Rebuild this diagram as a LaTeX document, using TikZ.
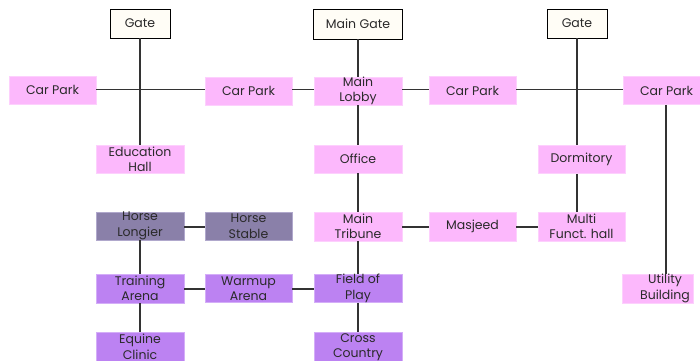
\documentclass[tikz,border=0pt]{standalone}
\usepackage{fontspec}
\setmainfont{Poppins}
\definecolor{pinkf}{HTML}{FCB8FC}
\definecolor{pinkd}{HTML}{FDD0FD}
\definecolor{greyf}{HTML}{8A80A9}
\definecolor{greyd}{HTML}{B0A8CC}
\definecolor{purpf}{HTML}{BC82F2}
\definecolor{purpd}{HTML}{D4AEF8}
\definecolor{gatef}{HTML}{FFFDF6}
\definecolor{linec}{HTML}{333333}
\definecolor{txtc}{HTML}{2A2A2A}
\tikzset{
  base/.style={minimum width=88pt, minimum height=28pt, inner sep=0pt, align=center,
    font=\fontsize{12.5}{15.5}\selectfont, text=txtc},
  pinkbox/.style={base, fill=pinkf, draw=pinkd, line width=0.6pt},
  greybox/.style={base, fill=greyf, draw=greyd, line width=0.6pt},
  purpbox/.style={base, fill=purpf, draw=purpd, line width=0.6pt},
  gatebox/.style={base, minimum width=60pt, minimum height=29pt, fill=gatef, draw=black, line width=0.9pt},
  txtonly/.style={inner sep=0pt, align=center, font=\fontsize{12.5}{15.5}\selectfont, text=txtc},
  conn/.style={draw=linec, line width=1.5pt}
}
\begin{document}
\begin{tikzpicture}[x=1pt,y=-1pt]
\useasboundingbox (0,0) rectangle (700,360);
% gates
\node[gatebox] (gA) at (140,23.5) {Gate};
\node[gatebox, minimum width=89pt, minimum height=30pt] (gM) at (358,24) {Main Gate};
\node[gatebox] (gB) at (577,23.5) {Gate};
% row 2
\node[pinkbox, minimum width=87pt] (cp1) at (52.5,90) {Car Park};
\node[pinkbox, minimum width=87pt] (cp2) at (248.5,91) {Car Park};
\node[pinkbox] (lobby) at (358,91) {Main\\Lobby};
\node[pinkbox, minimum width=87pt] (cp3) at (472.5,90.5) {Car Park};
\node[pinkbox, minimum width=87pt] (cp4) at (666.5,90.5) {Car Park};
\coordinate (r2) at (0,89.5);
% row 3
\node[pinkbox] (edu) at (140,159.5) {Education\\Hall};
\node[pinkbox] (office) at (358,159) {Office};
\node[pinkbox, minimum width=87pt] (dorm) at (581.5,159.5) {Dormitory};
% row 4
\node[greybox] (longier) at (140,226) {Horse\\Longier};
\node[greybox, minimum width=87pt] (stable) at (248.5,226) {Horse\\Stable};
\node[pinkbox, minimum height=29pt] (tribune) at (358,226.5) {Main\\Tribune};
\node[pinkbox, minimum width=87pt, minimum height=29pt] (masjeed) at (472.5,226.5) {Masjeed};
\node[pinkbox, minimum width=87pt, minimum height=29pt] (multi) at (581.5,226.5) {Multi\\Funct. hall};
\coordinate (r4) at (0,227);
% row 5
\node[purpbox, minimum height=29pt] (training) at (140,288.5) {Training\\Arena};
\node[purpbox, minimum width=87pt] (warmup) at (248.5,288.5) {Warmup\\Arena};
\node[purpbox] (field) at (358,288.5) {Field of\\Play};
\node[pinkbox, minimum width=71pt, minimum height=29pt] (utility) at (657.5,288.5) {};
\node[txtonly] (utilitytxt) at (665,288.5) {Utility\\Building};
\coordinate (r5) at (0,289);
\coordinate (xu) at (666,0);
\coordinate (xg) at (577,0);
% row 6
\node[purpbox, minimum height=30pt] (clinic) at (140,347) {Equine\\Clinic};
\node[purpbox, minimum height=30pt] (cross) at (358,347) {Cross\\Country};
% connectors
\draw[conn] (gA.south) -- (edu.north);
\draw[conn] (cp1.east |- r2) -- (cp2.west |- r2);
\draw[conn] (cp2.east |- r2) -- (lobby.west |- r2);
\draw[conn] (lobby.east |- r2) -- (cp3.west |- r2);
\draw[conn] (cp3.east |- r2) -- (cp4.west |- r2);
\draw[conn] (gM.south) -- (lobby.north);
\draw[conn] (lobby.south) -- (office.north);
\draw[conn] (office.south) -- (tribune.north);
\draw[conn] (tribune.south) -- (field.north);
\draw[conn] (field.south) -- (cross.north);
\draw[conn] (gB.south) -- (xg |- dorm.north);
\draw[conn] (xg |- dorm.south) -- (xg |- multi.north);
\draw[conn] (xu |- cp4.south) -- (xu |- utility.north);
\draw[conn] (longier.east |- r4) -- (stable.west |- r4);
\draw[conn] (tribune.east |- r4) -- (masjeed.west |- r4);
\draw[conn] (masjeed.east |- r4) -- (multi.west |- r4);
\draw[conn] (longier.south) -- (training.north);
\draw[conn] (training.south) -- (clinic.north);
\draw[conn] (training.east |- r5) -- (warmup.west |- r5);
\draw[conn] (warmup.east |- r5) -- (field.west |- r5);
\end{tikzpicture}
\end{document}
